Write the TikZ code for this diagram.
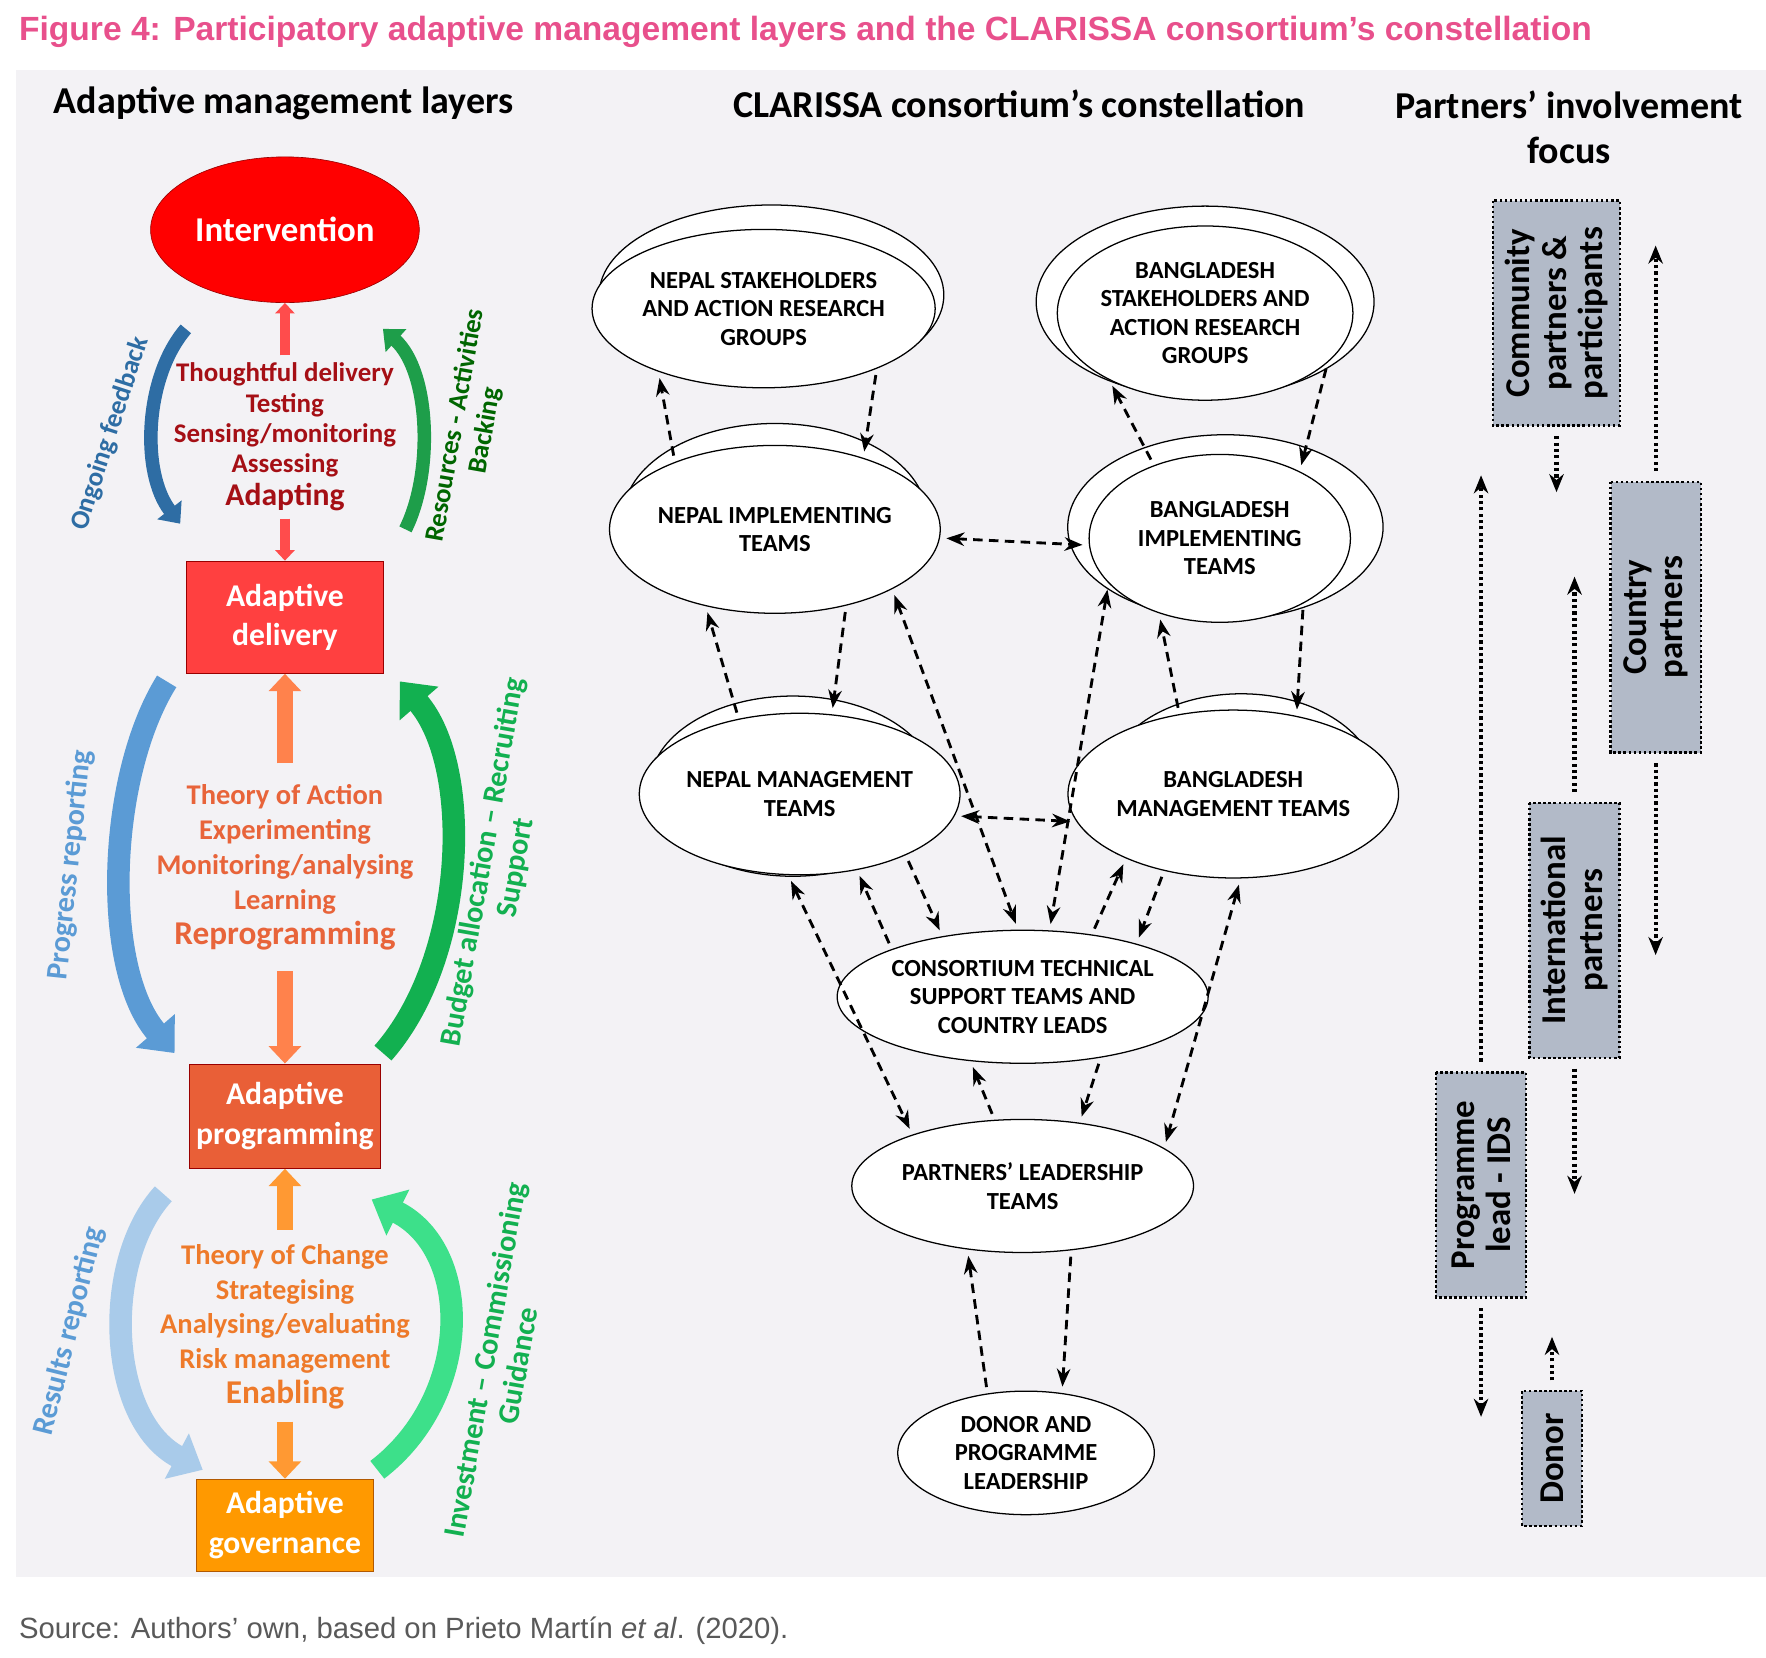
\documentclass[tikz,border=0pt]{standalone}
\usepackage{fontspec}
\setmainfont{Carlito}
\newfontfamily\arialf{Liberation Sans}
\usetikzlibrary{positioning, arrows.meta, shapes.geometric, calc}

\definecolor{titlepink}{HTML}{E8508C}
\definecolor{panelgray}{HTML}{F3F2F5}
\definecolor{boxgray}{HTML}{B2BAC8}
\definecolor{darkred}{HTML}{A50F15}
\definecolor{midorange}{HTML}{E8643A}
\definecolor{loworange}{HTML}{EE7A2A}
\definecolor{fbblue}{HTML}{2E6DA4}
\definecolor{prblue}{HTML}{5B9BD5}
\definecolor{rrblue}{HTML}{A9CBEA}
\definecolor{bkgreen}{HTML}{1E9E4A}
\definecolor{bagreen}{HTML}{12B050}
\definecolor{icgreen}{HTML}{3DE08A}

\tikzset{
    heading/.style={font=\fontsize{24}{28}\selectfont\bfseries, align=center},
    layerbox/.style={draw=red!60!black, text=white, font=\fontsize{20}{25}\selectfont\bfseries, align=center, inner sep=0pt},
    layertext/.style={font=\fontsize{17}{19}\selectfont\bfseries, align=center},
    cloudtext/.style={ellipse, draw, thick, fill=white, font=\fontsize{15.5}{18}\selectfont\bfseries, align=center, inner sep=0pt},
    backcloud/.style={draw, thick, fill=white},
    conn/.style={-{Stealth[length=4mm, width=3mm]}, line width=1.8pt, dash pattern=on 6pt off 4pt, shorten <=4pt, shorten >=4pt},
    biconn/.style={{Stealth[length=4mm, width=3mm]}-{Stealth[length=4mm, width=3mm]}, line width=1.8pt, dash pattern=on 6pt off 4pt, shorten <=4pt, shorten >=4pt},
    focusbox/.style={draw, line width=1.6pt, dash pattern=on 1.6pt off 1.6pt, fill=boxgray, rotate=90, font=\fontsize{22}{23}\selectfont\bfseries, align=center, inner sep=2pt},
    focusarrow/.style={-{Stealth[length=4mm, width=3.2mm]}, line width=2.6pt, dash pattern=on 2pt off 2pt, shorten <=6pt},
    smallup/.style={-{Triangle[length=0pt 1.1, width=0pt 2]}, line width=6pt},
    bigarrow/.style={-{Triangle[length=0pt 1.3, width=0pt 2.2]}},
    curvelabel/.style={font=\fontsize{19}{21}\selectfont\bfseries}
}

\begin{document}
\begin{tikzpicture}[x=0.025cm, y=-0.025cm]
    \useasboundingbox (0,0) rectangle (1568,1472);
    \fill[panelgray] (14,62) rectangle (1568,1400);

    % === Title and source ===
    \node[anchor=west, text=titlepink, font=\arialf\fontsize{21.2}{25}\selectfont\bfseries] (title) at (12,28)
        {Figure 4: Participatory adaptive management layers and the CLARISSA consortium’s constellation};
    \node[anchor=west, text=black!65, font=\arialf\fontsize{18.5}{21}\selectfont] (source) at (12,1448)
        {Source: Authors’ own, based on Prieto Martín \textit{et al}. (2020).};

    % === Headings ===
    \node[heading] (h1) at (252,92) {Adaptive management layers};
    \node[heading] (h2) at (905,92) {CLARISSA consortium’s constellation};
    \node[heading] (h3) at (1393,113) {Partners’ involvement\\focus};

    % === Adaptive management layers ===
    \node[ellipse, draw=red!60!black, fill=red, text=white, minimum width=168, minimum height=92,
          font=\fontsize{22}{26}\selectfont\bfseries] (interv) at (253,204) {Intervention};
    \node[layerbox, fill=red!75!white, minimum width=124, minimum height=71] (adeliv) at (253,548) {Adaptive\\delivery};
    \node[layerbox, fill=midorange!95!red, minimum width=121, minimum height=66] (aprog) at (253,991) {Adaptive\\programming};
    \node[layerbox, fill=orange!80!yellow, draw=orange!70!black, minimum width=112, minimum height=58] (agov) at (253,1354) {Adaptive\\governance};

    \node[layertext, text=darkred] (t1) at (253,388)
        {Thoughtful delivery\\Testing\\Sensing/monitoring\\Assessing\\[2pt]{\fontsize{20}{22}\selectfont Adapting}};
    \node[layertext, text=midorange, font=\fontsize{18}{20}\selectfont\bfseries] (t2) at (253,770)
        {Theory of Action\\[2pt]Experimenting\\[2pt]Monitoring/analysing\\[2pt]Learning\\[2pt]{\fontsize{21}{23}\selectfont Reprogramming}};
    \node[layertext, text=loworange, font=\fontsize{18}{20}\selectfont\bfseries] (t3) at (253,1178)
        {Theory of Change\\[2pt]Strategising\\[2pt]Analysing/evaluating\\[2pt]Risk management\\[2pt]{\fontsize{21}{23}\selectfont Enabling}};

    % small vertical arrows
    \draw[smallup, red!70] (t1.north) ++(0,-2) -- (interv.south);
    \draw[smallup, red!70] (t1.south) ++(0,2) -- (adeliv.north);
    \draw[smallup, line width=10pt, orange!60!red!70] (t2.north) ++(0,-14) -- (adeliv.south);
    \draw[smallup, line width=10pt, orange!60!red!70] (t2.south) ++(0,14) -- (aprog.north);
    \draw[smallup, line width=10pt, orange!80] (t3.north) ++(0,-8) -- (aprog.south);
    \draw[smallup, line width=10pt, orange!80] (t3.south) ++(0,6) -- (agov.north);

    % curved arrows
    \draw[bigarrow, line width=0.3cm, fbblue] (165,292) .. controls (128,335) and (125,420) .. (160,465);
    \draw[bigarrow, line width=0.3cm, bkgreen] (360,470) .. controls (385,420) and (382,330) .. (340,292);
    \draw[bigarrow, line width=0.5cm, prblue] (148,605) .. controls (95,690) and (90,860) .. (155,935);
    \draw[bigarrow, line width=0.5cm, bagreen] (340,935) .. controls (415,850) and (420,680) .. (355,605);
    \draw[bigarrow, line width=0.5cm, rrblue] (145,1060) .. controls (90,1120) and (95,1260) .. (180,1305);
    \draw[bigarrow, line width=0.5cm, icgreen] (335,1305) .. controls (420,1240) and (420,1110) .. (330,1065);

    \node[curvelabel, text=fbblue, rotate=72, font=\fontsize{17}{19}\selectfont\bfseries] (lof) at (98,385) {Ongoing feedback};
    \node[curvelabel, text=green!40!black, rotate=80, align=center, font=\fontsize{17}{19}\selectfont\bfseries] (lra) at (418,380) {Resources - Activities\\Backing};
    \node[curvelabel, text=prblue, rotate=84] (lpr) at (63,768) {Progress reporting};
    \node[curvelabel, text=bagreen, rotate=80, align=center] (lba) at (444,768) {Budget allocation -- Recruiting\\Support};
    \node[curvelabel, text=prblue, rotate=76] (lrr) at (62,1182) {Results reporting};
    \node[curvelabel, text=bagreen, rotate=80, align=center] (lic) at (445,1210) {Investment -- Commissioning\\Guidance};

    % === CLARISSA constellation ===
    \draw[backcloud] (685,262) ellipse (153 and 80);
    \node[cloudtext, minimum width=165, minimum height=100] (nst) at (678,274) {NEPAL STAKEHOLDERS\\AND ACTION RESEARCH\\GROUPS};
    \draw[backcloud] (1070,268) ellipse (150 and 85);
    \node[cloudtext, minimum width=165, minimum height=110] (bst) at (1070,278) {BANGLADESH\\STAKEHOLDERS AND\\ACTION RESEARCH\\GROUPS};
    \draw[backcloud] (688,460) ellipse (135 and 84);
    \node[cloudtext, minimum width=165, minimum height=106] (nimp) at (688,470) {NEPAL IMPLEMENTING\\TEAMS};
    \draw[backcloud] (1088,468) ellipse (140 and 82);
    \node[cloudtext, minimum width=165, minimum height=106] (bimp) at (1083,478) {BANGLADESH\\IMPLEMENTING\\TEAMS};
    \draw[backcloud] (704,698) ellipse (127 and 80);
    \node[cloudtext, minimum width=166, minimum height=102] (nman) at (710,705) {NEPAL MANAGEMENT\\TEAMS};
    \draw[backcloud] (1102,696) ellipse (120 and 80);
    \node[cloudtext, minimum width=166, minimum height=106] (bman) at (1095,705) {BANGLADESH\\MANAGEMENT TEAMS};
    \node[cloudtext, minimum width=208, minimum height=84] (cons) at (908,885) {CONSORTIUM TECHNICAL\\SUPPORT TEAMS AND\\COUNTRY LEADS};
    \node[cloudtext, minimum width=164, minimum height=84] (plead) at (908,1053) {PARTNERS’ LEADERSHIP\\TEAMS};
    \node[cloudtext, minimum width=162, minimum height=78] (donor) at (911,1290) {DONOR AND\\PROGRAMME\\LEADERSHIP};

    \draw[conn] (nst.-28) -- (nimp.39);
    \draw[conn] (nimp.146) -- (nst.211);
    \draw[conn] (bimp.132) -- (bst.215);
    \draw[conn] (bst.-22) -- (bimp.40);
    \draw[biconn] (nimp.-3) -- (bimp.183);
    \draw[conn] (nimp.-47) -- (nman.68);
    \draw[conn] (nman.129) -- (nimp.228);
    \draw[conn] (bimp.-38) -- (bman.51);
    \draw[conn] (bman.124) -- (bimp.231);
    \draw[biconn] (nman.-8) -- (bman.190);
    \draw[biconn] (nimp.-27) -- (cons.94);
    \draw[biconn] (bimp.202) -- (cons.68);
    \draw[conn] (nman.-30) -- (cons.143);
    \draw[conn] (cons.160) -- (nman.-53);
    \draw[conn] (cons.42) -- (bman.211);
    \draw[conn] (bman.228) -- (cons.25);
    \draw[biconn] (nman.262) -- (plead.155);
    \draw[biconn] (bman.275) -- (plead.15);
    \draw[conn] (cons.-38) -- (plead.48);
    \draw[conn] (plead.113) -- (cons.231);
    \draw[conn] (plead.-53) -- (donor.59);
    \draw[conn] (donor.123) -- (plead.229);

    % === Partners' involvement focus ===
    \node[focusbox, minimum width=142, minimum height=80] (fcom) at (1382,278) {Community\\partners \&\\participants};
    \node[focusbox, minimum width=171, minimum height=57] (fcty) at (1470,548) {Country\\partners};
    \node[focusbox, minimum width=161, minimum height=57] (fint) at (1398,826) {International\\partners};
    \node[focusbox, minimum width=142, minimum height=57] (fprg) at (1315,1052) {Programme\\lead - IDS};
    \node[focusbox, minimum width=85, minimum height=38] (fdon) at (1378,1295) {Donor};

    \coordinate (pcomd) at (1382,437);
    \coordinate (pctyu) at (1470,218);
    \coordinate (pctyd) at (1470,848);
    \coordinate (pintu) at (1398,512);
    \coordinate (pintd) at (1398,1060);
    \coordinate (pprgu) at (1315,422);
    \coordinate (pprgd) at (1315,1258);
    \coordinate (pdonu) at (1378,1187);
    \draw[focusarrow] (fcom.west) -- (pcomd);
    \draw[focusarrow] (fcty.east) -- (pctyu);
    \draw[focusarrow] (fcty.west) -- (pctyd);
    \draw[focusarrow] (fint.east) -- (pintu);
    \draw[focusarrow] (fint.west) -- (pintd);
    \draw[focusarrow] (fprg.east) -- (pprgu);
    \draw[focusarrow] (fprg.west) -- (pprgd);
    \draw[focusarrow] (fdon.east) -- (pdonu);
\end{tikzpicture}
\end{document}
